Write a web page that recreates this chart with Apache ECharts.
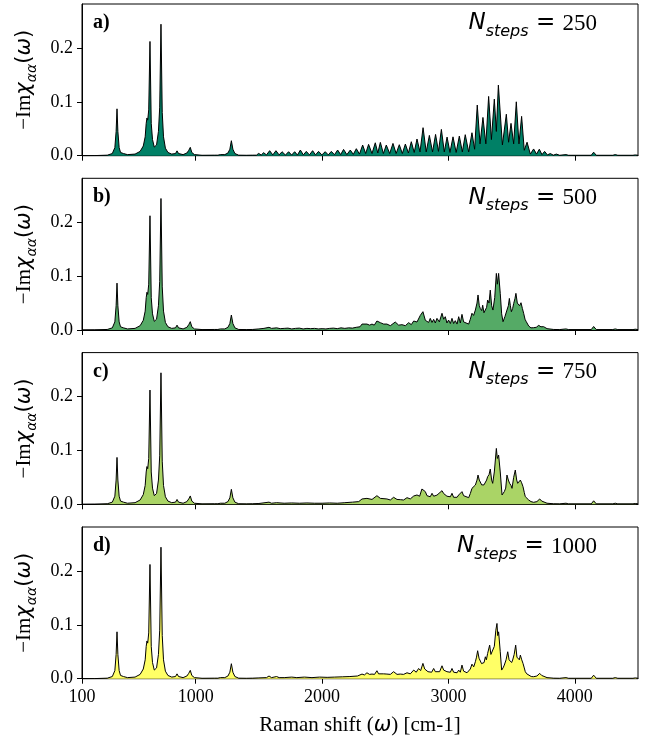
<!DOCTYPE html>
<html>
<head>
<meta charset="utf-8">
<script src="https://cdn.jsdelivr.net/npm/echarts@6/dist/echarts.min.js"></script>
<style>
  html, body { margin: 0; padding: 0; background: #fff; }
  #chart { width: 657px; height: 740px; }
</style>
</head>
<body>
<div id="chart"></div>
<script>
// x ticks / y ticks
const shiftTicks = [100, 1000, 2000, 3000, 4000]
const intensityTicks = [0, 0.1, 0.2]
const panelLabels = ['a)', 'b)', 'c)', 'd)']
const nSteps = [250, 500, 750, 1000]
const fillColors = ['#008066', '#55aa66', '#aad466', '#ffff66']

// common low-frequency part [shift, -Im chi]
const lowPart = [
  [100, 0], [200, 0.0002], [300, 0.001], [340, 0.004], [360, 0.015], [370, 0.045], [377, 0.087],
  [384, 0.045], [394, 0.015], [405, 0.006], [417, 0.008], [428, 0.004], [460, 0.002], [520, 0.003],
  [560, 0.008], [585, 0.018], [600, 0.035], [608, 0.06], [614, 0.07], [620, 0.066], [628, 0.085],
  [638, 0.212], [648, 0.06], [658, 0.03], [672, 0.016], [690, 0.02], [705, 0.045], [715, 0.09],
  [725, 0.244], [735, 0.08], [745, 0.035], [760, 0.014], [780, 0.006], [810, 0.003], [840, 0.004],
  [852, 0.009], [864, 0.004], [900, 0.002], [930, 0.005], [945, 0.010], [957, 0.0155], [969, 0.006],
  [990, 0.002], [1050, 0.0008], [1150, 0.001], [1160, 0.002], [1175, 0.001], [1195, 0.002],
  [1230, 0.002], [1255, 0.005], [1270, 0.012], [1282, 0.0278], [1294, 0.012], [1310, 0.004],
  [1340, 0.001], [1400, 0.0008]
]

// common tail above ~3850
const tailPart = [
  [3880, 0.0008], [3930, 0.002], [3950, 0.0008], [4130, 0.0008], [4149, 0.0065], [4170, 0.0008],
  [4300, 0.0008], [4320, 0.002], [4340, 0.0008], [4460, 0.0008], [4479, 0.0015], [4500, 0.0008]
]

const highA = [
  [1450, 0.001], [1480, 0.001], [1498, 0.0043], [1518, 0.0012], [1537, 0.0056], [1560, 0.0015],
  [1585, 0.0093], [1610, 0.0015], [1635, 0.0093], [1660, 0.0015], [1683, 0.0074], [1710, 0.0012],
  [1735, 0.0074], [1759, 0.0012], [1783, 0.0074], [1805, 0.0012], [1828, 0.0105], [1852, 0.0015],
  [1875, 0.008], [1900, 0.0015], [1925, 0.0093], [1948, 0.0015], [1972, 0.008], [1998, 0.0015],
  [2025, 0.0074], [2049, 0.0015], [2073, 0.008], [2098, 0.0018], [2123, 0.0105], [2147, 0.002],
  [2170, 0.0117], [2196, 0.002], [2223, 0.0105], [2247, 0.0025], [2271, 0.013], [2296, 0.003],
  [2321, 0.0198], [2345, 0.004], [2368, 0.021], [2395, 0.004], [2421, 0.024], [2441, 0.005],
  [2461, 0.0247], [2485, 0.004], [2508, 0.0198], [2535, 0.004], [2561, 0.0228], [2586, 0.004],
  [2611, 0.0204], [2635, 0.004], [2659, 0.0216], [2683, 0.005], [2706, 0.026], [2729, 0.006],
  [2751, 0.031], [2775, 0.007], [2799, 0.052], [2824, 0.007], [2849, 0.0377], [2874, 0.007],
  [2898, 0.0395], [2921, 0.008], [2944, 0.0488], [2967, 0.007], [2989, 0.0346], [3012, 0.006],
  [3036, 0.035], [3061, 0.006], [3086, 0.0364], [3110, 0.007], [3133, 0.039], [3160, 0.007],
  [3186, 0.0426], [3207, 0.012], [3228, 0.094], [3250, 0.022], [3273, 0.071], [3296, 0.022],
  [3318, 0.110], [3340, 0.03], [3363, 0.105], [3379, 0.045], [3395, 0.131], [3427, 0.02],
  [3458, 0.077], [3476, 0.025], [3495, 0.060], [3516, 0.022], [3537, 0.100], [3558, 0.022],
  [3579, 0.073], [3600, 0.01], [3622, 0.025], [3648, 0.003], [3674, 0.0125], [3697, 0.003],
  [3719, 0.012], [3740, 0.002], [3761, 0.008], [3783, 0.0015], [3806, 0.004], [3830, 0.001],
  [3854, 0.003]
]

const highB = [
  [1450, 0.001], [1500, 0.002], [1540, 0.003], [1580, 0.005], [1600, 0.003], [1640, 0.004],
  [1669, 0.0025], [1700, 0.003], [1730, 0.0035], [1760, 0.002], [1790, 0.003], [1820, 0.0035],
  [1850, 0.002], [1880, 0.003], [1910, 0.0025], [1940, 0.003], [1970, 0.002], [2000, 0.0025],
  [2030, 0.002], [2060, 0.003], [2090, 0.0035], [2120, 0.0025], [2150, 0.004], [2180, 0.003],
  [2210, 0.004], [2240, 0.0035], [2270, 0.005], [2300, 0.006], [2316, 0.011], [2329, 0.0136],
  [2355, 0.011], [2376, 0.009], [2395, 0.011], [2413, 0.009], [2434, 0.0167], [2461, 0.0136],
  [2487, 0.011], [2513, 0.011], [2540, 0.008], [2579, 0.0148], [2606, 0.009], [2632, 0.0099],
  [2659, 0.008], [2685, 0.0136], [2706, 0.01], [2725, 0.0167], [2751, 0.0148], [2777, 0.027],
  [2798, 0.034], [2817, 0.018], [2830, 0.0185], [2843, 0.014], [2856, 0.0216], [2870, 0.014],
  [2883, 0.0198], [2896, 0.013], [2909, 0.0216], [2928, 0.015], [2949, 0.031], [2962, 0.02],
  [2975, 0.0247], [2988, 0.013], [3001, 0.0185], [3015, 0.012], [3028, 0.0216], [3041, 0.012],
  [3054, 0.0173], [3068, 0.011], [3081, 0.0247], [3094, 0.013], [3107, 0.029], [3120, 0.015],
  [3133, 0.0185], [3160, 0.011], [3173, 0.02], [3186, 0.031], [3199, 0.027], [3213, 0.037],
  [3226, 0.05], [3234, 0.065], [3244, 0.045], [3252, 0.040], [3263, 0.036], [3271, 0.046],
  [3281, 0.032], [3292, 0.034], [3302, 0.042], [3310, 0.0556], [3321, 0.05], [3331, 0.074],
  [3342, 0.045], [3352, 0.037], [3366, 0.06], [3379, 0.105], [3387, 0.085], [3397, 0.105],
  [3410, 0.068], [3421, 0.03], [3432, 0.0154], [3447, 0.025], [3463, 0.037], [3474, 0.045],
  [3482, 0.0586], [3490, 0.045], [3498, 0.034], [3508, 0.04], [3516, 0.049], [3526, 0.058],
  [3534, 0.068], [3545, 0.05], [3553, 0.049], [3563, 0.045], [3574, 0.0506], [3585, 0.04],
  [3595, 0.031], [3606, 0.02], [3616, 0.0154], [3635, 0.0074], [3653, 0.004], [3674, 0.0043],
  [3695, 0.005], [3714, 0.0086], [3732, 0.006], [3753, 0.0062], [3780, 0.0025], [3832, 0.001]
]

const highC = [
  [1450, 0.001], [1500, 0.0015], [1580, 0.004], [1600, 0.002], [1640, 0.003], [1700, 0.002],
  [1760, 0.0025], [1820, 0.002], [1880, 0.0025], [1940, 0.002], [2000, 0.002], [2060, 0.0025],
  [2120, 0.002], [2180, 0.003], [2240, 0.004], [2290, 0.005], [2316, 0.0099], [2355, 0.011],
  [2395, 0.009], [2434, 0.016], [2461, 0.011], [2513, 0.0099], [2540, 0.008], [2566, 0.013],
  [2593, 0.009], [2619, 0.0086], [2645, 0.008], [2672, 0.0123], [2698, 0.01], [2725, 0.0154],
  [2751, 0.0173], [2772, 0.015], [2790, 0.0284], [2804, 0.025], [2817, 0.0235], [2830, 0.016],
  [2843, 0.0173], [2856, 0.014], [2870, 0.0204], [2883, 0.015], [2896, 0.016], [2909, 0.017],
  [2922, 0.0204], [2949, 0.0253], [2962, 0.02], [2975, 0.0204], [2988, 0.015], [3001, 0.0173],
  [3015, 0.014], [3028, 0.0204], [3041, 0.013], [3054, 0.0142], [3068, 0.013], [3081, 0.0173],
  [3094, 0.016], [3107, 0.0235], [3120, 0.016], [3133, 0.0173], [3160, 0.0123], [3173, 0.02],
  [3186, 0.0296], [3199, 0.028], [3213, 0.0358], [3226, 0.045], [3234, 0.0543], [3244, 0.045],
  [3252, 0.045], [3263, 0.036], [3271, 0.0327], [3281, 0.036], [3292, 0.0389], [3302, 0.045],
  [3310, 0.0512], [3321, 0.055], [3331, 0.0654], [3342, 0.045], [3350, 0.0389], [3363, 0.06],
  [3379, 0.1037], [3387, 0.085], [3397, 0.0914], [3410, 0.06], [3424, 0.0173], [3442, 0.0235],
  [3453, 0.03], [3463, 0.0543], [3474, 0.045], [3484, 0.0389], [3495, 0.035], [3503, 0.0296],
  [3516, 0.05], [3529, 0.0636], [3540, 0.045], [3548, 0.0389], [3558, 0.042], [3569, 0.045],
  [3579, 0.04], [3590, 0.0327], [3600, 0.022], [3608, 0.0142], [3635, 0.008], [3653, 0.005],
  [3674, 0.0037], [3700, 0.005], [3722, 0.0099], [3738, 0.006], [3753, 0.005], [3780, 0.002],
  [3832, 0.001]
]

const highD = [
  [1450, 0.001], [1500, 0.0015], [1560, 0.002], [1580, 0.005], [1600, 0.002], [1640, 0.004],
  [1660, 0.002], [1700, 0.002], [1760, 0.003], [1800, 0.002], [1860, 0.003], [1920, 0.002],
  [1980, 0.003], [2040, 0.0025], [2100, 0.003], [2160, 0.0035], [2220, 0.004], [2280, 0.005],
  [2300, 0.007], [2316, 0.0086], [2335, 0.007], [2355, 0.011], [2375, 0.008], [2395, 0.0086],
  [2415, 0.008], [2434, 0.0148], [2447, 0.009], [2461, 0.011], [2487, 0.009], [2513, 0.0086],
  [2540, 0.008], [2566, 0.013], [2593, 0.008], [2619, 0.0086], [2645, 0.008], [2672, 0.011],
  [2698, 0.009], [2725, 0.016], [2745, 0.012], [2764, 0.019], [2780, 0.015], [2798, 0.0284],
  [2812, 0.018], [2825, 0.019], [2838, 0.013], [2851, 0.016], [2867, 0.012], [2883, 0.019],
  [2896, 0.013], [2909, 0.016], [2930, 0.013], [2949, 0.024], [2962, 0.016], [2975, 0.019],
  [2988, 0.013], [3001, 0.0148], [3015, 0.012], [3028, 0.019], [3041, 0.012], [3054, 0.013],
  [3068, 0.011], [3081, 0.016], [3094, 0.012], [3107, 0.0253], [3120, 0.014], [3133, 0.016],
  [3147, 0.011], [3160, 0.013], [3173, 0.018], [3186, 0.027], [3200, 0.022], [3213, 0.0315],
  [3222, 0.04], [3231, 0.0519], [3242, 0.038], [3252, 0.0358], [3262, 0.028], [3273, 0.0315],
  [3282, 0.03], [3292, 0.0407], [3300, 0.035], [3310, 0.0469], [3318, 0.045], [3326, 0.0623],
  [3336, 0.045], [3347, 0.0438], [3363, 0.06], [3375, 0.09], [3384, 0.1025], [3390, 0.08],
  [3397, 0.087], [3410, 0.05], [3421, 0.016], [3432, 0.02], [3442, 0.0253], [3456, 0.035],
  [3469, 0.05], [3480, 0.035], [3490, 0.0315], [3500, 0.03], [3508, 0.0346], [3520, 0.045],
  [3532, 0.0623], [3542, 0.04], [3553, 0.0377], [3561, 0.035], [3569, 0.0438], [3580, 0.035],
  [3590, 0.0284], [3600, 0.02], [3608, 0.013], [3620, 0.009], [3635, 0.0068], [3655, 0.004],
  [3674, 0.0037], [3700, 0.005], [3722, 0.0099], [3738, 0.006], [3753, 0.005], [3780, 0.002],
  [3832, 0.001]
]

const spectra = [
  lowPart.concat(highA, tailPart),
  lowPart.concat(highB, tailPart),
  lowPart.concat(highC, tailPart),
  lowPart.concat(highD, tailPart)
]

const gridTops = [4, 178.3, 352.6, 527]
const gridH = 151.7

const chart = echarts.init(document.getElementById('chart'), null, { renderer: 'canvas' })

const serif = '"Liberation Serif", "Times New Roman", serif'
const sans = '"DejaVu Sans", sans-serif'

// subscripts: taller line for the big glyphs, sub glyphs pinned to the bottom
const yNameRich = {
  m: { fontFamily: serif, fontSize: 21, lineHeight: 30, color: '#000' },
  c: { fontFamily: sans, fontStyle: 'italic', fontSize: 21, lineHeight: 30, color: '#000' },
  s: { fontFamily: sans, fontStyle: 'italic', fontSize: 14, lineHeight: 15, color: '#000', verticalAlign: 'bottom' },
  p: { fontFamily: sans, fontSize: 21, lineHeight: 30, color: '#000' }
}

const grids = []
const xAxes = []
const yAxes = []
const series = []
const graphics = []

spectra.forEach((data, i) => {
  grids.push({
    left: 82, right: 19, top: gridTops[i], height: gridH,
    show: true, borderColor: '#000', borderWidth: 1
  })
  const last = i === spectra.length - 1
  xAxes.push({
    gridIndex: i,
    type: 'value',
    min: 100,
    max: 4500,
    splitLine: { show: false },
    axisLine: { lineStyle: { color: '#000', width: 1 } },
    axisTick: { customValues: shiftTicks, length: 5, lineStyle: { color: '#000' } },
    axisLabel: {
      show: last,
      customValues: shiftTicks,
      margin: 10,
      color: '#000',
      fontFamily: serif,
      fontSize: 18,
      formatter: v => String(v)
    },
    name: last ? '{t|Raman shift (}{w|ω}{t|) [cm-1]}' : '',
    nameLocation: 'middle',
    nameGap: 36,
    nameTextStyle: {
      rich: {
        t: { fontFamily: serif, fontSize: 21, color: '#000' },
        w: { fontFamily: sans, fontStyle: 'italic', fontSize: 21, color: '#000' }
      }
    }
  })
  yAxes.push({
    gridIndex: i,
    type: 'value',
    min: 0,
    max: 0.2815,
    splitLine: { show: false },
    axisLine: { show: true, lineStyle: { color: '#000', width: 1 } },
    axisTick: { show: true, customValues: intensityTicks, length: 5, lineStyle: { color: '#000' } },
    axisLabel: {
      customValues: intensityTicks,
      margin: 9,
      color: '#000',
      fontFamily: serif,
      fontSize: 18,
      formatter: v => v.toFixed(1)
    },
    name: '{m|−Im}{c|χ}{s|αα}{p|(}{c|ω}{p|)}',
    nameLocation: 'middle',
    nameRotate: 90,
    nameGap: 41,
    nameTextStyle: { rich: yNameRich }
  })
  series.push({
    type: 'line',
    xAxisIndex: i,
    yAxisIndex: i,
    data: data,
    showSymbol: false,
    symbol: 'none',
    lineStyle: { color: '#000', width: 1 },
    areaStyle: { color: fillColors[i], opacity: 1 },
    silent: true
  })
  graphics.push({
    type: 'text',
    left: 93,
    top: gridTops[i] + 9,
    style: {
      text: panelLabels[i],
      font: 'bold 20px ' + serif,
      fill: '#000'
    }
  })
  graphics.push({
    type: 'text',
    right: 60,
    top: gridTops[i] + 8,
    style: {
      text: '{n|N}{s|steps}{e| = }{v|' + nSteps[i] + '}',
      rich: {
        n: { fontFamily: sans, fontStyle: 'italic', fontSize: 23, lineHeight: 32, fill: '#000' },
        s: { fontFamily: sans, fontStyle: 'italic', fontSize: 16, lineHeight: 17, fill: '#000', verticalAlign: 'bottom' },
        e: { fontFamily: sans, fontSize: 23, lineHeight: 32, fill: '#000' },
        v: { fontFamily: serif, fontSize: 23, lineHeight: 32, fill: '#000' }
      }
    }
  })
})

chart.setOption({
  animation: false,
  backgroundColor: '#fff',
  grid: grids,
  xAxis: xAxes,
  yAxis: yAxes,
  series: series,
  graphic: graphics
})
</script>
</body>
</html>
